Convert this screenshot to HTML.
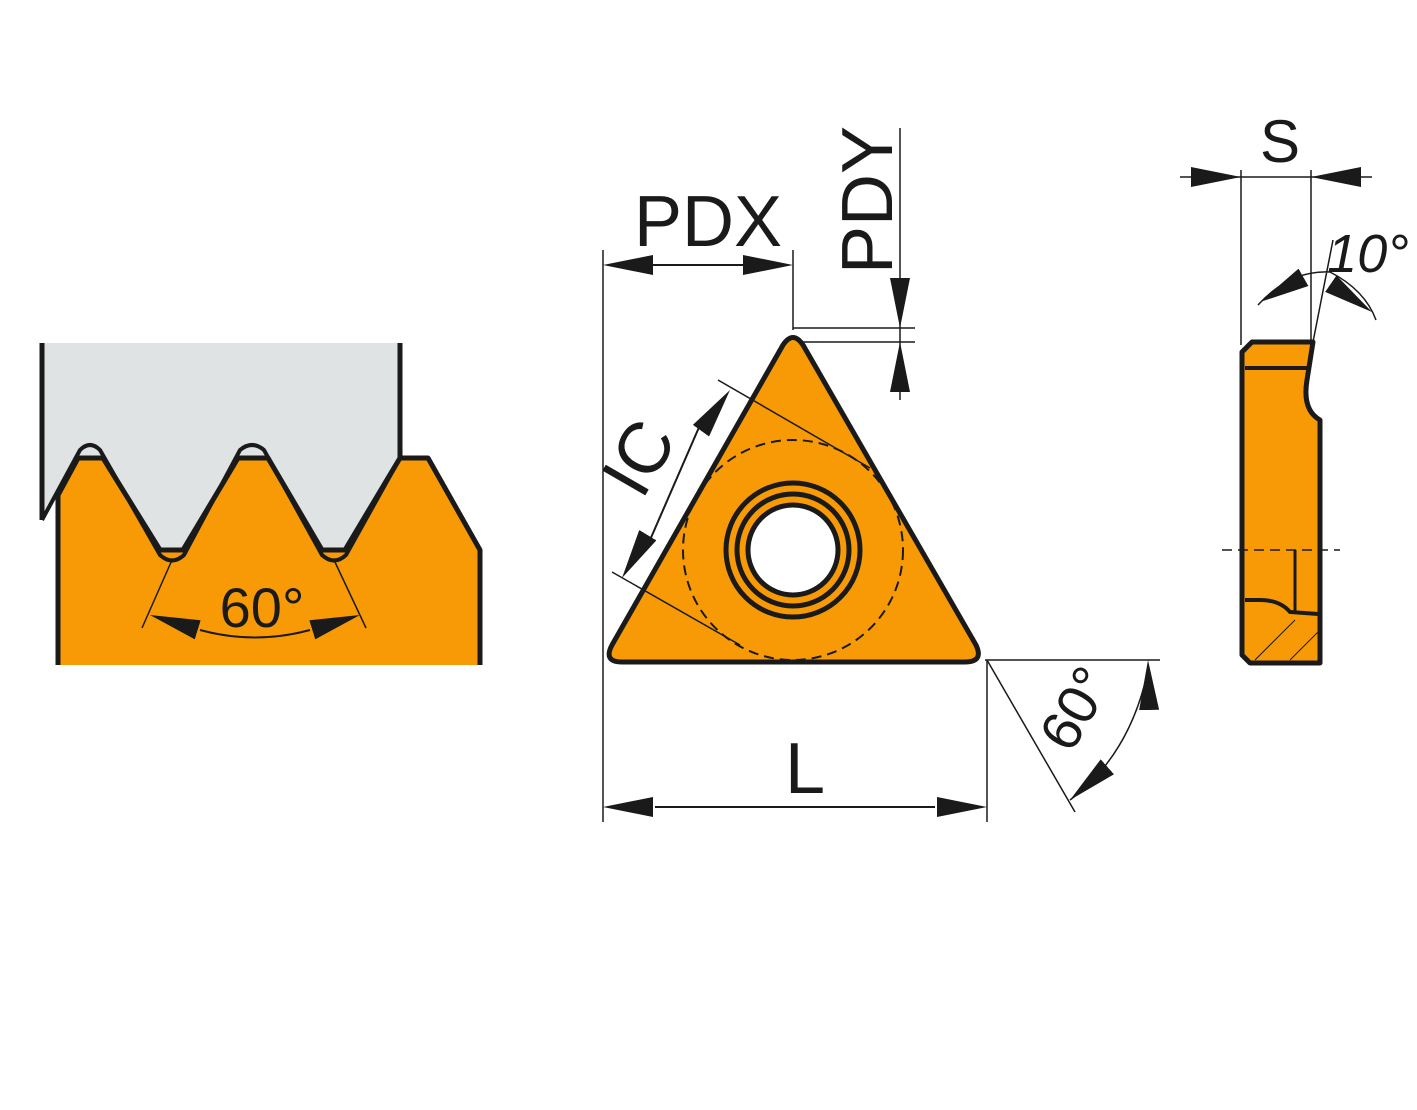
<!DOCTYPE html>
<html><head><meta charset="utf-8"><style>html,body{margin:0;padding:0;background:#fff}svg{display:block}</style></head>
<body>
<svg width="1417" height="1110" viewBox="0 0 1417 1110" xmlns="http://www.w3.org/2000/svg" font-family="Liberation Sans, sans-serif">
<defs>
<marker id="a" viewBox="0 0 50 20" refX="50" refY="10" markerWidth="50" markerHeight="20" markerUnits="userSpaceOnUse" orient="auto"><path d="M0,0 L50,10 L0,20 Z" fill="#1a1a1a"/></marker>
</defs>
<!-- LEFT -->
<path d="M42,343 H400 V458 L345,550 H322 L268,458 H238 L183,550 H160 L103,458 H78 L42,520 Z" fill="#e0e3e3"/>
<path d="M42,343 V520 M400,343 V458" stroke="#1a1a1a" stroke-width="5" fill="none"/>
<path d="M58,665 V495 L78,458 H103 L160,550 H183 L238,458 H268 L322,550 H345 L400,458 H428 L480,550 V665 Z" fill="#f89a06"/>
<path d="M58,665 V495 L78,458 H103 L160,550 H183 L238,458 H268 L322,550 H345 L400,458 H428 L480,550 V665" stroke="#1a1a1a" stroke-width="5" fill="none" stroke-linejoin="round"/>
<path d="M42,520 L80,450 Q90,440 100,450 L160,555 Q172,566 184,555 L240,450 Q252,440 264,450 L322,555 Q334,566 346,555 L400,458" stroke="#1a1a1a" stroke-width="4" fill="none"/>
<path d="M172,560 L142,628 M334,560 L366,628" stroke="#1a1a1a" stroke-width="1.5"/>
<path d="M200,630 Q255,645 310,630" stroke="#1a1a1a" stroke-width="2" fill="none"/>
<path d="M205,632 L150,615" stroke="none" marker-end="url(#a)"/>
<path d="M305,632 L360,615" stroke="none" marker-end="url(#a)"/>
<text x="262" y="627" font-size="56" text-anchor="middle" fill="#1a1a1a">60°</text>
<!-- TRIANGLE -->
<path d="M783,345 Q793,330 803,345 L976,645 Q984,662 965,662 L622,662 Q603,662 612,645 Z" fill="#f89a06" stroke="#1a1a1a" stroke-width="5"/>
<circle cx="793" cy="550" r="110" fill="none" stroke="#1a1a1a" stroke-width="2" stroke-dasharray="10,6"/>
<circle cx="793" cy="550" r="67" fill="none" stroke="#1a1a1a" stroke-width="5"/>
<circle cx="793" cy="550" r="56" fill="none" stroke="#1a1a1a" stroke-width="5"/>
<circle cx="793" cy="550" r="45" fill="#fff" stroke="#1a1a1a" stroke-width="5"/>
<g stroke="#1a1a1a" stroke-width="1.5">
<path d="M603,250 V822 M793,250 V330 M987,660 V822 M985,660 H1160 M793,328 H915 M803,342 H915 M900,128 V400"/>
<path d="M718,380 L870,468 M612,572 L740,645 M987,660 L1075,812"/>
<path d="M1148,670 Q1130,755 1070,800" fill="none"/>
</g>
<g stroke="#1a1a1a" stroke-width="2">
<line x1="650" y1="265" x2="745" y2="265"/>
<line x1="655" y1="807" x2="935" y2="807"/>
<line x1="700" y1="425" x2="650" y2="540"/>
</g>
<path d="M700,265 L603,265" marker-end="url(#a)"/>
<path d="M700,265 L793,265" marker-end="url(#a)"/>
<path d="M800,807 L603,807" marker-end="url(#a)"/>
<path d="M800,807 L987,807" marker-end="url(#a)"/>
<path d="M680,460 L730,390" marker-end="url(#a)"/>
<path d="M660,515 L622,578" marker-end="url(#a)"/>
<path d="M900,270 L900,328" marker-end="url(#a)"/>
<path d="M900,400 L900,342" marker-end="url(#a)"/>
<path d="M1150,750 L1148,660" marker-end="url(#a)"/>
<path d="M1115,760 L1070,800" marker-end="url(#a)"/>
<text x="708" y="246" font-size="72" text-anchor="middle" fill="#1a1a1a">PDX</text>
<text transform="translate(892,200) rotate(-90)" font-size="72" text-anchor="middle" fill="#1a1a1a">PDY</text>
<text transform="translate(660,470) rotate(-60)" font-size="72" text-anchor="middle" fill="#1a1a1a">IC</text>
<text x="805" y="793" font-size="72" text-anchor="middle" fill="#1a1a1a">L</text>
<text transform="translate(1092,718) rotate(-60)" font-size="56" text-anchor="middle" fill="#1a1a1a">60°</text>
<!-- RIGHT -->
<path d="M1252,342 H1313 L1307,380 Q1302,410 1320,420 V663 H1250 L1242,655 V352 Z" fill="#f89a06" stroke="#1a1a1a" stroke-width="5" stroke-linejoin="round"/>
<path d="M1245,368 H1310 M1245,600 H1260 Q1280,600 1290,612 L1318,614" stroke="#1a1a1a" stroke-width="4" fill="none"/>
<path d="M1295,550 V612" stroke="#1a1a1a" stroke-width="3"/>
<path d="M1222,550 H1340" stroke="#1a1a1a" stroke-width="1.5" stroke-dasharray="10,6"/>
<path d="M1255,660 L1295,620 M1290,660 L1318,632" stroke="#1a1a1a" stroke-width="1"/>
<g stroke="#1a1a1a" stroke-width="1.5" fill="none">
<path d="M1241,170 V345 M1311,170 V342 M1180,177 H1372 M1313,342 L1333,240 M1258,305 Q1290,270 1330,272 Q1365,290 1376,320"/>
</g>
<path d="M1215,177 L1241,177" marker-end="url(#a)"/>
<path d="M1340,177 L1311,177" marker-end="url(#a)"/>
<path d="M1290,285 L1260,302" marker-end="url(#a)"/>
<path d="M1340,290 L1372,312" marker-end="url(#a)"/>
<text x="1280" y="162" font-size="60" text-anchor="middle" fill="#1a1a1a">S</text>
<text x="1368" y="272" font-size="54" text-anchor="middle" font-style="italic" fill="#1a1a1a">10°</text>
</svg>
</body></html>
